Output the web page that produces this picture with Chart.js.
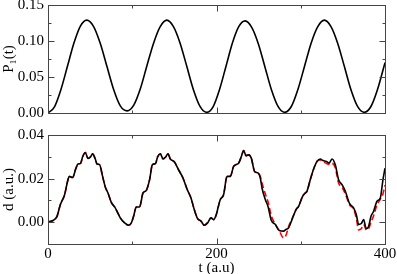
<!DOCTYPE html>
<html>
<head>
<meta charset="utf-8">
<script src="https://cdn.jsdelivr.net/npm/chart.js@4.4.0/dist/chart.umd.min.js"></script>
<style>
  html, body { margin: 0; padding: 0; background: #fff; }
  #wrap { position: relative; width: 397px; height: 274px; overflow: hidden; }
  .panel { position: absolute; left: 0; width: 397px; }
  #topBox { top: 0; height: 125px; }
  #botBox { top: 125px; height: 152px; }
</style>
</head>
<body>
<div id="wrap">
  <div class="panel" id="topBox"><canvas id="topChart"></canvas></div>
  <div class="panel" id="botBox"><canvas id="botChart"></canvas></div>
</div>
<script>
// top panel: P1(t)
const tP = [0, 7.7, 15.3, 23, 30.7, 38.3, 46, 54, 62, 70, 78, 86, 94,
  101.8, 109.7, 117.5, 125.3, 133.2, 141, 148.9, 156.8, 164.8, 172.7, 180.6, 188.5,
  196.1, 203.7, 211.3, 218.8, 226.4, 234, 241.8, 249.7, 257.5, 265.3, 273.2, 281,
  288.8, 296.7, 304.5, 312.3, 320.2, 328, 335.9, 343.8, 351.8, 359.7, 367.6, 375.5,
  383.3, 391.2, 400];
const p1 = [0, 0.0086, 0.0323, 0.0645, 0.0968, 0.1204, 0.129, 0.1204, 0.0968, 0.0645, 0.0323, 0.0095, 0.003,
  0.011, 0.034, 0.066, 0.097, 0.120, 0.129, 0.120, 0.097, 0.0645, 0.032, 0.0088, 0.001,
  0.009, 0.033, 0.065, 0.097, 0.120, 0.128, 0.119, 0.096, 0.064, 0.032, 0.0088, 0.001,
  0.009, 0.033, 0.065, 0.097, 0.120, 0.129, 0.120, 0.097, 0.0645, 0.032, 0.0088, 0.001,
  0.009, 0.033, 0.070];

// bottom panel: d (black solid, red dashed)
const tD = [0, 6.7, 10.7, 14.6, 19.7, 23.7, 25.3, 29.2, 33.2, 35.6, 38.7, 41.1, 44.3, 47.5, 50.6, 52.9,
  56.1, 58.2, 61.2, 64.8, 68, 71.2, 75.1, 79.1, 81.9, 85.8, 90.9, 95.7, 98.9, 101.6, 104.8, 108.7,
  112.8, 116.7, 120.6, 123.8, 127.7, 130.1, 133.3, 136.5, 139.6, 142.4, 145.2, 149.9, 155, 160.2,
  165, 169.7, 173.6, 177.6, 181.6, 185.5, 189.4, 193.5, 196.6, 199.8, 201.8, 204.5, 208.4, 212.5,
  216.4, 220.3, 223.1, 226.2, 229.4, 232.2, 235, 238.1, 241.3, 245.2, 249.3, 252, 254, 257.9,
  261.1, 265, 269.8, 274.5, 279.6, 282.5, 285.6, 289.6, 294.4, 297.5, 302.2, 305.4, 307.4, 311.3,
  315.3, 319.3, 323.2, 326.4, 330.3, 333.5, 337.1, 341, 344.9, 349, 352.9, 358, 362.7, 365.9,
  368.7, 371.9, 374.6, 377.8, 380.5, 383.4, 386.5, 390.5, 394.4, 397.6, 400];
const dBlack = [0, 0.001, 0.0027, 0.008, 0.0126, 0.0195, 0.021, 0.0205, 0.0248, 0.0267, 0.027, 0.030, 0.032, 0.0292, 0.030, 0.0314,
  0.029, 0.0267, 0.0264, 0.021, 0.0162, 0.0134, 0.0091, 0.007, 0.005, 0.002, -0.0003, -0.0014, -0.0003, 0.0027, 0.007, 0.007,
  0.0134, 0.0146, 0.0195, 0.0263, 0.027, 0.030, 0.0314, 0.029, 0.0299, 0.0314, 0.029, 0.0277, 0.024, 0.0203,
  0.0152, 0.0111, 0.0058, 0.0016, 0.0005, -0.0014, -0.0003, 0.002, 0.0012, 0.0035, 0.0066, 0.0104, 0.0126, 0.021,
  0.021, 0.0256, 0.0264, 0.027, 0.030, 0.0329, 0.0305, 0.0309, 0.0294, 0.0233, 0.0226, 0.0203, 0.0157, 0.0104,
  0.0073, 0.0009, -0.001, -0.0038, -0.0041, -0.0033, -0.0026, 0.0012, 0.0058, 0.0073, 0.0119, 0.0134, 0.0142, 0.0195,
  0.0244, 0.0279, 0.029, 0.0283, 0.0279, 0.0271, 0.029, 0.0263, 0.0195, 0.0172, 0.0142, 0.0085, 0.0066, 0.0035,
  -0.001, -0.0006, 0.0012, -0.003, -0.002, 0.0027, 0.005, 0.0096, 0.0111, 0.0195, 0.0248];
const dRed = [0, 0.001, 0.0027, 0.008, 0.0126, 0.0195, 0.021, 0.0205, 0.0248, 0.0267, 0.027, 0.030, 0.032, 0.0292, 0.030, 0.0314,
  0.029, 0.0267, 0.0264, 0.021, 0.0162, 0.0134, 0.0091, 0.007, 0.005, 0.002, -0.0003, -0.0014, -0.0003, 0.0027, 0.007, 0.007,
  0.0134, 0.0146, 0.0195, 0.0263, 0.027, 0.030, 0.0314, 0.029, 0.0299, 0.0314, 0.029, 0.0277, 0.024, 0.0203,
  0.0152, 0.0111, 0.0058, 0.0016, 0.0005, -0.0014, -0.0003, 0.002, 0.0012, 0.0035, 0.0066, 0.0104, 0.0126, 0.021,
  0.021, 0.0256, 0.0264, 0.027, 0.030, 0.0329, 0.0305, 0.0309, 0.0294, 0.0233, 0.0226, 0.021, 0.018, 0.013,
  0.0095, 0.003, -0.001, -0.004, -0.0072, -0.006, -0.002, 0.0015, 0.0058, 0.0073, 0.0119, 0.0134, 0.0142, 0.0195,
  0.0244, 0.0279, 0.0285, 0.0278, 0.027, 0.0265, 0.027, 0.025, 0.018, 0.016, 0.013, 0.008, 0.006, 0.002,
  -0.0035, -0.003, -0.001, -0.0035, -0.003, 0.000, 0.003, 0.008, 0.0105, 0.013, 0.017];

// tick positions
const xMajor = [0, 200, 400];
const xMinor = [100, 300];
const pMajor = [0, 0.05, 0.10, 0.15];
const pMinor = [0.025, 0.075, 0.125];
const dMajor = [0, 0.02, 0.04];
const dMinor = [-0.01, 0.01, 0.03];

const serif = "'Liberation Serif', 'Times New Roman', 'DejaVu Serif', serif";
const font = { family: serif, size: 15 };

const toXY = (xs, ys) => xs.map((x, i) => ({ x, y: ys[i] }));

// box around the plot plus inward ticks on all four sides
const frameTicks = {
  id: 'frameTicks',
  afterDraw(chart, args, o) {
    const { ctx, chartArea: a, scales } = chart;
    const L = Math.round(a.left) + 0.5, R = Math.round(a.right) + 0.5;
    const T = Math.round(a.top) + 0.5, B = Math.round(a.bottom) + 0.5;
    ctx.save();
    ctx.strokeStyle = '#444';
    ctx.lineWidth = 1;
    ctx.strokeRect(L, T, R - L, B - T);
    ctx.beginPath();
    const xt = (v, len) => {
      const px = Math.round(scales.x.getPixelForValue(v)) + 0.5;
      ctx.moveTo(px, B); ctx.lineTo(px, B - len);
      ctx.moveTo(px, T); ctx.lineTo(px, T + len);
    };
    const yt = (v, len) => {
      const py = Math.round(scales.y.getPixelForValue(v)) + 0.5;
      ctx.moveTo(L, py); ctx.lineTo(L + len, py);
      ctx.moveTo(R, py); ctx.lineTo(R - len, py);
    };
    o.xMajor.forEach(v => xt(v, 6));
    o.xMinor.forEach(v => xt(v, 3));
    o.yMajor.forEach(v => yt(v, 6));
    o.yMinor.forEach(v => yt(v, 3));
    ctx.stroke();
    ctx.restore();
  }
};

function yScale(min, max, ticks, title) {
  return {
    type: 'linear', min, max,
    afterBuildTicks: s => { s.ticks = ticks.map(v => ({ value: v })); },
    afterFit: s => { s.width = 48; s.paddingTop = 0; s.paddingBottom = 0; },
    grid: { display: false, drawTicks: false }, border: { display: false },
    ticks: { font, color: '#000', padding: 4, callback: v => v.toFixed(2) },
    title: { display: true, text: title, font, color: '#000', padding: 0 }
  };
}

new Chart(document.getElementById('topChart'), {
  type: 'line',
  data: {
    datasets: [{ data: toXY(tP, p1), borderColor: '#000', borderWidth: 1.6, pointRadius: 0, cubicInterpolationMode: 'monotone', fill: false }]
  },
  options: {
    responsive: true, maintainAspectRatio: false, animation: false,
    layout: { padding: { top: 5, right: 12, left: 0, bottom: 0 } },
    plugins: {
      legend: { display: false }, tooltip: { enabled: false },
      frameTicks: { xMajor, xMinor, yMajor: pMajor, yMinor: pMinor }
    },
    scales: {
      x: {
        type: 'linear', min: 0, max: 400,
        grid: { display: false, drawTicks: false }, border: { display: false },
        ticks: { display: false },
        afterFit: s => { s.height = 12; s.paddingLeft = 0; s.paddingRight = 0; }
      },
      y: yScale(0, 0.15, pMajor, 'P\u2081(t)')
    }
  },
  plugins: [frameTicks]
});

new Chart(document.getElementById('botChart'), {
  type: 'line',
  data: {
    datasets: [
      { data: toXY(tD, dBlack), borderColor: '#000', borderWidth: 1.6, pointRadius: 0, cubicInterpolationMode: 'monotone', fill: false },
      { data: toXY(tD, dRed), borderColor: '#ff0000', borderWidth: 1.6, borderDash: [6, 3], pointRadius: 0, cubicInterpolationMode: 'monotone', fill: false }
    ]
  },
  options: {
    responsive: true, maintainAspectRatio: false, animation: false,
    layout: { padding: { top: 10, right: 12, left: 0, bottom: 0 } },
    plugins: {
      legend: { display: false }, tooltip: { enabled: false },
      frameTicks: { xMajor, xMinor, yMajor: dMajor, yMinor: dMinor }
    },
    scales: {
      x: {
        type: 'linear', min: 0, max: 400,
        afterBuildTicks: s => { s.ticks = xMajor.map(v => ({ value: v })); },
        afterFit: s => { s.height = 33; s.paddingLeft = 0; s.paddingRight = 0; },
        grid: { display: false, drawTicks: false }, border: { display: false },
        ticks: { font, color: '#000', padding: 1, maxRotation: 0 },
        title: { display: true, text: 't (a.u)', font, color: '#000', padding: 0 }
      },
      y: yScale(-0.01, 0.04, dMajor, 'd (a.u.)')
    }
  },
  plugins: [frameTicks]
});
</script>
</body>
</html>
